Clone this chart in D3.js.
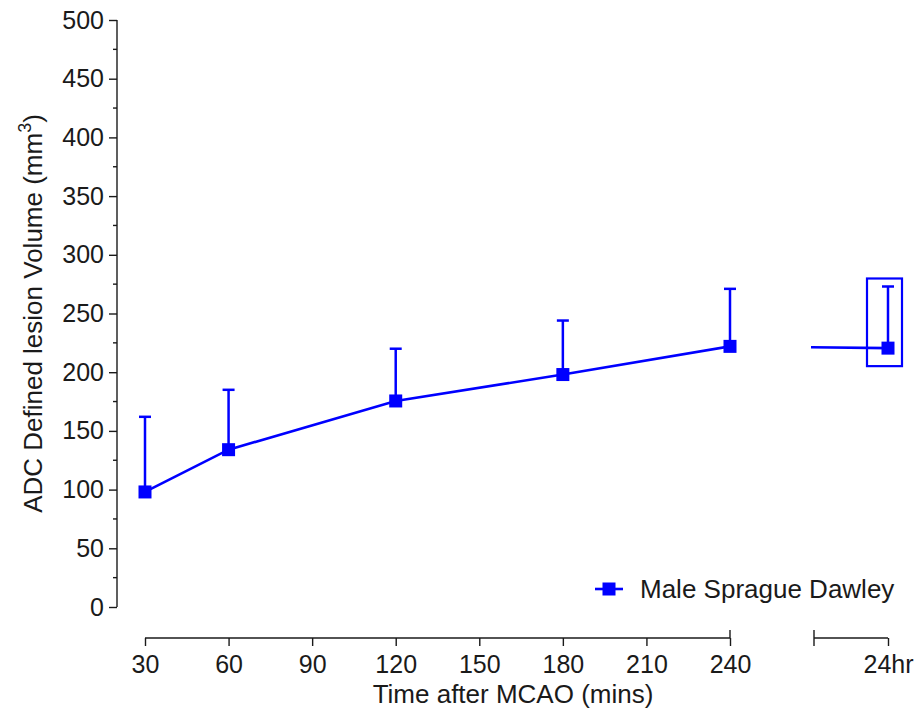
<!DOCTYPE html>
<html>
<head>
<meta charset="utf-8">
<script src="https://cdn.jsdelivr.net/npm/d3@7"></script>
<style>
  body { margin: 0; background: #fff; }
  svg { display: block; font-family: "Liberation Sans", Arial, sans-serif; }
</style>
</head>
<body>
<script>
// data
const timeLabels = ["30", "60", "120", "180", "240", "24hr"];
const timeMins = [30, 60, 120, 180, 240, null]; // 24hr sits on the broken segment
const meanVolume = [98, 134, 175.5, 198, 222, 220.5];
const upperError = [162, 185, 220, 244, 271, 273];
const xTicks = [30, 60, 90, 120, 150, 180, 210, 240];
const yTicks = d3.range(0, 501, 50);
const seriesName = "Male Sprague Dawley";

const width = 918, height = 714;
const blue = "#0000ff";
const ink = "#1a1a1a";
const tickFont = 25, titleFont = 26;

const svg = d3.select("body").append("svg")
    .attr("width", width)
    .attr("height", height);

// scales
const y = d3.scaleLinear().domain([0, 500]).range([607, 20]);
const xMain = d3.scaleLinear().domain([30, 240]).range([145, 730]);
const xBreak = d3.scaleLinear().domain([0, 1]).range([814, 888]); // 24hr segment
const xPos = (d, i) => timeMins[i] == null ? xBreak(1) : xMain(timeMins[i]);

const axisX = 117;
const axisY = 638;

// y axis
const yAxis = svg.append("g")
    .attr("transform", `translate(${axisX},0)`)
    .call(d3.axisLeft(y).tickValues(yTicks).tickSize(8).tickPadding(5));
yAxis.select(".domain").attr("d", `M0,${y(500)}V${y(0)}`);
// minor ticks
yAxis.selectAll(".minor")
    .data(d3.range(25, 500, 50))
    .join("line")
    .attr("class", "minor")
    .attr("x2", -4)
    .attr("y1", d => y(d)).attr("y2", d => y(d));

// x axis, main segment
const xAxis = svg.append("g")
    .attr("transform", `translate(0,${axisY})`)
    .call(d3.axisBottom(xMain).tickValues(xTicks).tickSize(8).tickPadding(9));
xAxis.select(".domain").attr("d", `M${xMain(30)},0H${xMain(240)}`);
xAxis.append("line").attr("x1", xMain(240)).attr("x2", xMain(240)).attr("y1", -8).attr("y2", 0);

// x axis, 24hr segment
const xAxis2 = svg.append("g")
    .attr("transform", `translate(0,${axisY})`)
    .call(d3.axisBottom(xBreak).tickValues([1]).tickFormat(() => timeLabels[5]).tickSize(8).tickPadding(9));
xAxis2.select(".domain").attr("d", `M${xBreak(0)},0H${xBreak(1)}`);
xAxis2.append("line").attr("x1", xBreak(0)).attr("x2", xBreak(0)).attr("y1", -8).attr("y2", 8);

svg.selectAll(".tick text").attr("font-size", tickFont).attr("fill", ink).attr("font-family", "Liberation Sans, Arial, sans-serif");
svg.selectAll(".domain, .tick line, .minor, g > line").attr("stroke", ink).attr("stroke-width", 1.4);

// axis titles
svg.append("text")
    .attr("x", 513).attr("y", 703)
    .attr("text-anchor", "middle")
    .attr("font-size", titleFont).attr("fill", ink)
    .text("Time after MCAO (mins)");

const yTitle = svg.append("text")
    .attr("transform", `translate(42,${y(250)}) rotate(-90)`)
    .attr("text-anchor", "middle")
    .attr("font-size", titleFont).attr("fill", ink);
yTitle.append("tspan").text("ADC Defined lesion Volume (mm");
yTitle.append("tspan").attr("font-size", 18).attr("dy", -11).text("3");
yTitle.append("tspan").attr("dy", 11).text(")");

// clip paths for the broken line
const defs = svg.append("defs");
defs.append("clipPath").attr("id", "clipMain")
    .append("rect").attr("x", 0).attr("y", 0).attr("width", xMain(240)).attr("height", height);
defs.append("clipPath").attr("id", "clipBreak")
    .append("rect").attr("x", xBreak(0) - 3).attr("y", 0).attr("width", 200).attr("height", height);

const pts = meanVolume.map((v, i) => [xPos(v, i), y(v)]);
const line = d3.line();
["clipMain", "clipBreak"].forEach(id => {
    svg.append("path")
        .attr("d", line(pts))
        .attr("clip-path", `url(#${id})`)
        .attr("fill", "none")
        .attr("stroke", blue)
        .attr("stroke-width", 2.6);
});

// error bars (upper only)
const bars = svg.append("g").attr("stroke", blue).attr("stroke-width", 2.5);
bars.selectAll(".eb")
    .data(meanVolume)
    .join("line")
    .attr("x1", (d, i) => xPos(d, i)).attr("x2", (d, i) => xPos(d, i))
    .attr("y1", d => y(d)).attr("y2", (d, i) => y(upperError[i]));
bars.selectAll(".cap")
    .data(meanVolume)
    .join("line")
    .attr("x1", (d, i) => xPos(d, i) - 6).attr("x2", (d, i) => xPos(d, i) + 6)
    .attr("y1", (d, i) => y(upperError[i])).attr("y2", (d, i) => y(upperError[i]));

// markers
svg.append("g").selectAll("rect")
    .data(meanVolume)
    .join("rect")
    .attr("x", (d, i) => xPos(d, i) - 6.5)
    .attr("y", d => y(d) - 6.5)
    .attr("width", 13).attr("height", 13)
    .attr("fill", blue);

// highlight box around the 24hr point
svg.append("rect")
    .attr("x", xBreak(1) - 21)
    .attr("y", y(upperError[5]) - 8)
    .attr("width", 35)
    .attr("height", y(meanVolume[5]) - y(upperError[5]) + 26)
    .attr("fill", "none")
    .attr("stroke", blue)
    .attr("stroke-width", 2.2);

// legend
const legend = svg.append("g").attr("transform", "translate(595,589)");
legend.append("line").attr("x1", 0).attr("x2", 28).attr("stroke", blue).attr("stroke-width", 2.6);
legend.append("rect").attr("x", 7.5).attr("y", -6.5).attr("width", 13).attr("height", 13).attr("fill", blue);
legend.append("text").attr("x", 45).attr("y", 9)
    .attr("font-size", titleFont).attr("fill", ink)
    .text(seriesName);
</script>
</body>
</html>
